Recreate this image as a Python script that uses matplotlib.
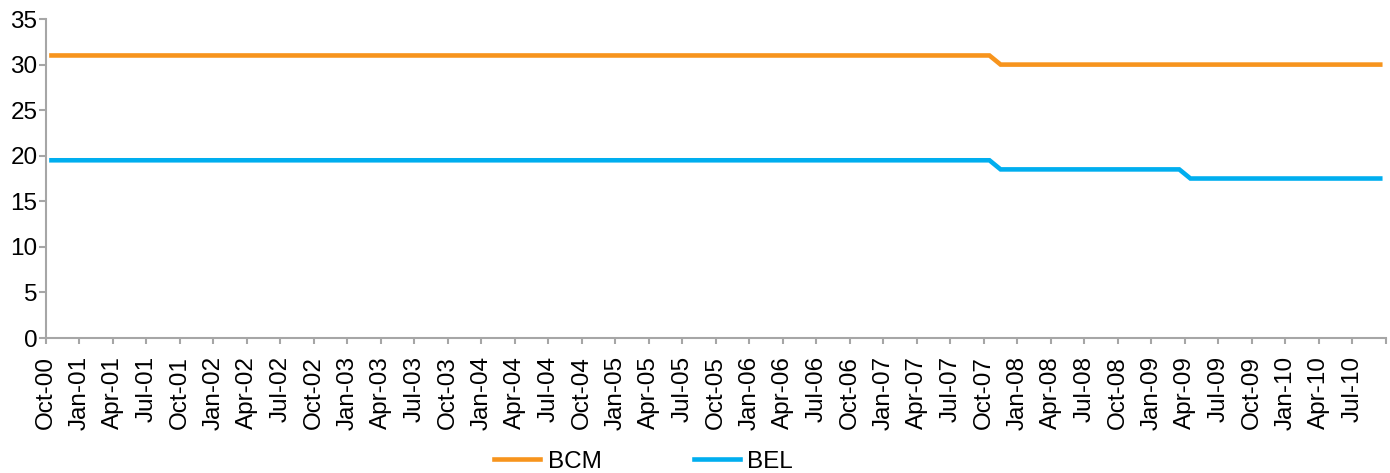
import pandas as pd
import matplotlib.pyplot as plt

plt.rcParams['font.family'] = ['Liberation Sans', 'DejaVu Sans']

# monthly policy rates, Oct-2000 .. Sep-2010
months = pd.date_range('2000-10-01', '2010-09-01', freq='MS')
bcm = [31.0] * 85 + [30.0] * 35
bel = [19.5] * 85 + [18.5] * 17 + [17.5] * 18

tick_dates = pd.date_range('2000-10-01', '2010-10-01', freq='QS-OCT')
tick_labels = [d.strftime('%b-%y') for d in tick_dates[:-1]] + ['']

fig = plt.figure(figsize=(13.9, 4.73), dpi=100)
ax = fig.add_axes([0.033, 0.2854, 0.964, 0.6744])

x = [i + 0.5 for i in range(len(months))]
ax.plot(x, bcm, color='#F7941D', lw=3.3, label='BCM', solid_joinstyle='miter')
ax.plot(x, bel, color='#00AEEF', lw=3.3, label='BEL', solid_joinstyle='miter')

ax.set_xlim(0, len(months))
ax.set_ylim(0, 35)
ax.set_yticks(range(0, 36, 5))
ax.set_xticks([3 * i for i in range(len(tick_dates))])
ax.set_xticklabels(tick_labels, rotation=90, fontsize=17.5)
ax.tick_params(axis='y', labelsize=17.5, length=5, width=1.5, color='#A6A6A6', pad=1)
ax.tick_params(axis='x', length=4, width=1.5, color='#A6A6A6', pad=9)

for side in ['top', 'right']:
    ax.spines[side].set_visible(False)
for side in ['left', 'bottom']:
    ax.spines[side].set_color('#A6A6A6')
    ax.spines[side].set_linewidth(1.5)

fig.legend(loc='center', bbox_to_anchor=(0.463, 0.024), ncol=2, frameon=False,
           fontsize=17.5, handlelength=1.9, handletextpad=0.3, columnspacing=3.8)

fig.savefig('out.png', dpi=100)
